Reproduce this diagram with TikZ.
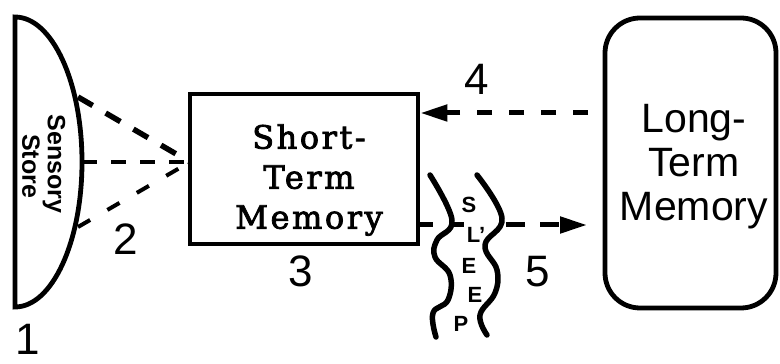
\documentclass[tikz,border=0pt]{standalone}
\usepackage{fontspec}
\setmainfont{Liberation Sans}
\newfontfamily\stmfont[FakeBold=2.5,LetterSpace=8]{DejaVu Serif}
\usetikzlibrary{arrows.meta}
\begin{document}
\begin{tikzpicture}[x=1pt,y=1pt,
  outline/.style={line width=4.8pt, line join=miter},
  dashU/.style={line width=5.5pt, dash pattern=on 17pt off 15pt},
  dashM/.style={line width=4.5pt, dash pattern=on 15pt off 14pt},
  dashL/.style={line width=4pt, dash pattern=on 14pt off 20pt},
  dashF/.style={line width=5pt, dash pattern=on 15pt off 17pt},
  dashS/.style={line width=5pt, dash pattern=on 13pt off 20pt},
  dashT/.style={line width=5pt, dash pattern=on 19pt off 15pt},
  tip/.style={-{Triangle[length=27pt,width=16pt]}},
  digit/.style={font=\fontsize{44}{44}\selectfont, inner sep=0pt, anchor=base},
  sensetext/.style={rotate=-90, font=\fontsize{25}{25}\selectfont\bfseries, inner sep=0pt},
  sleepletter/.style={font=\fontsize{22}{22}\selectfont\bfseries, inner sep=0pt},
  wave/.style={line width=5.5pt, line cap=round, line join=round}
]
\useasboundingbox (0,0) rectangle (780,364);

% Sensory store
\draw[outline] (15,347) arc[start angle=90, end angle=-90, x radius=67, y radius=145] -- cycle;
\node[sensetext] (sensory) at (54,200) {Sensory};
\node[sensetext] (store) at (31,198) {Store};

% Short-term memory
\node[draw, outline, minimum width=228pt, minimum height=150pt, inner sep=0pt] (stm) at (304,195) {};
\node[align=center, inner sep=0pt, font=\fontsize{32}{40}\stmfont] (stmtext) at (309,184) {Short-\\Term\\Memory};

% Long-term memory
\node[draw, outline, rounded corners=35pt, minimum width=171pt, minimum height=290pt, inner sep=0pt] (ltm) at (690.5,201) {};
\node[align=center, inner sep=0pt, font=\fontsize{41}{44}\selectfont] (ltmtext) at (694,197) {Long-\\Term\\Memory};

% dashed lines from sensory store
\coordinate (ssU) at (78,267);
\coordinate (ssM) at (82,202);
\coordinate (ssL) at (78,137);
\coordinate (conv) at (190,202);
\draw[dashU] (ssU) -- (conv);
\draw[dashM] (ssM) -- (conv);
\draw[dashL] (ssL) -- (conv);

% arrow 4
\coordinate (a4s) at (588,251);
\draw[dashF, tip] (a4s) -- (stm.east |- a4s);

% sleep waves
\draw[wave] plot[smooth, tension=0.7] coordinates {(430,189) (452,144) (437,124) (435,107) (450,89) (448,64) (433,51) (436,27)};
\draw[wave] plot[smooth, tension=0.7] coordinates {(477,189) (502,146) (485,119) (497,94) (495,71) (480,49) (487,29)};
\node[sleepletter] (sS) at (469,159) {S};
\node[sleepletter] (sL) at (476,129) {L'};
\node[sleepletter] (sE1) at (469,98) {E};
\node[sleepletter] (sE2) at (475,69) {E};
\node[sleepletter] (sP) at (461,40) {P};

% arrow 5
\coordinate (a5a) at (464,139);
\coordinate (a5b) at (506,139);
\coordinate (a5e) at (587,139);
\draw[dashS] (stm.east |- a5a) -- (a5a);
\draw[dashT, tip] (a5b) -- (a5e);

% numbers
\node[digit] (n1) at (28,9) {1};
\node[digit] (n2) at (126,109) {2};
\node[digit] (n3) at (301,77) {3};
\node[digit] (n4) at (477,269) {4};
\node[digit] (n5) at (538,77) {5};
\end{tikzpicture}
\end{document}
